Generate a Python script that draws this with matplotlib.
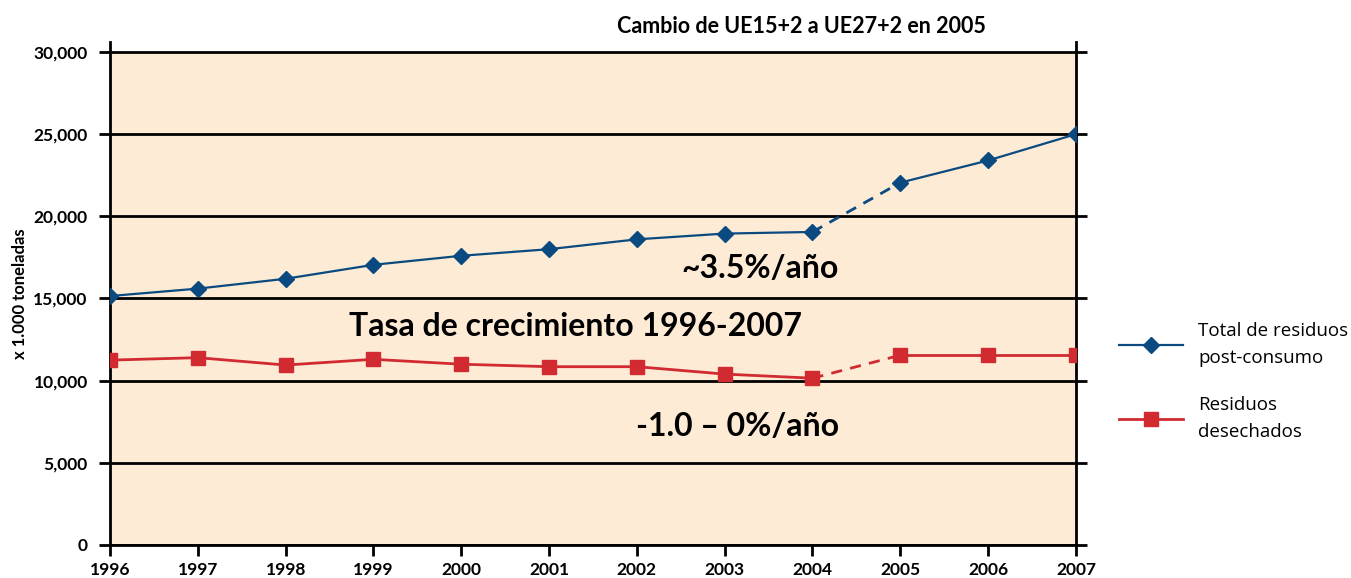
import matplotlib.pyplot as plt
from matplotlib.ticker import FuncFormatter

# data (x 1.000 toneladas)
years = [1996, 1997, 1998, 1999, 2000, 2001, 2002, 2003, 2004, 2005, 2006, 2007]
total = [15150, 15600, 16200, 17050, 17600, 18000, 18600, 18950, 19050, 22050, 23400, 25000]
desechados = [11250, 11400, 10950, 11300, 11000, 10850, 10850, 10400, 10150, 11550, 11550, 11550]
yticks = [0, 5000, 10000, 15000, 20000, 25000, 30000]

blue = '#0b4a80'
red = '#d12a30'
beige = '#fdebd6'
font = 'Lato'

fig = plt.figure(figsize=(13.51, 5.78), dpi=100)
ax = fig.add_axes([0.0814, 0.0571, 0.7150, 0.870])
ax.set_facecolor('white')
ax.axhspan(0, 30000, color=beige, zorder=0)

# solid parts (before/after the 2005 change) and dashed link
ax.plot(years[:9], total[:9], color=blue, lw=1.6, marker='D', ms=8, zorder=3)
ax.plot(years[9:], total[9:], color=blue, lw=1.6, marker='D', ms=8, zorder=3)
ax.plot(years[8:10], total[8:10], color=blue, lw=2, ls=(0, (4, 3)), zorder=2)
ax.plot(years[:9], desechados[:9], color=red, lw=2, marker='s', ms=10, zorder=3)
ax.plot(years[9:], desechados[9:], color=red, lw=2, marker='s', ms=10, zorder=3)
ax.plot(years[8:10], desechados[8:10], color=red, lw=2, ls=(0, (4, 3)), zorder=2)

ax.set_xlim(1996, 2007)
ax.set_ylim(0, 30600)
ax.set_xticks(years)
ax.set_yticks(yticks)
ax.yaxis.set_major_formatter(FuncFormatter(lambda v, p: f'{int(v):,}'))
ax.yaxis.grid(True, color='black', lw=2)
ax.set_axisbelow(True)
ax.tick_params(axis='y', direction='out', length=8, width=2, right=True, pad=8)
ax.tick_params(axis='x', direction='out', length=8, width=2, pad=4)
for lab in ax.get_xticklabels() + ax.get_yticklabels():
    lab.set_fontfamily(font)
    lab.set_fontweight('bold')
    lab.set_fontsize(12.5)
ax.spines['top'].set_visible(False)
for s in ['left', 'right', 'bottom']:
    ax.spines[s].set_linewidth(2)

ax.set_ylabel('x 1.000 toneladas', family=font, weight='bold', fontsize=12, labelpad=4)

fig.text(0.593, 0.955, 'Cambio de UE15+2 a UE27+2 en 2005', family=font, weight='bold',
         fontsize=15.5, ha='center', va='center')
ax.text(2004.3, 16800, '~3.5%/año', family=font, weight='bold', fontsize=23, ha='right', va='center')
ax.text(2001.3, 13300, 'Tasa de crecimiento 1996-2007', family=font, weight='bold', fontsize=23,
        ha='center', va='center')
ax.text(2004.3, 7200, '-1.0 – 0%/año', family=font, weight='bold', fontsize=23, ha='right', va='center')

leg = fig.legend(handles=ax.lines[0:1] + ax.lines[3:4],
                 labels=['Total de residuos\npost-consumo', 'Residuos\ndesechados'],
                 loc='center left', bbox_to_anchor=(0.816, 0.34), frameon=False, handlelength=3.4,
                 labelspacing=1.5, prop={'family': 'Open Sans', 'size': 13.5})
for t in leg.get_texts():
    t.set_linespacing(1.65)

fig.savefig('out.png', dpi=100)
